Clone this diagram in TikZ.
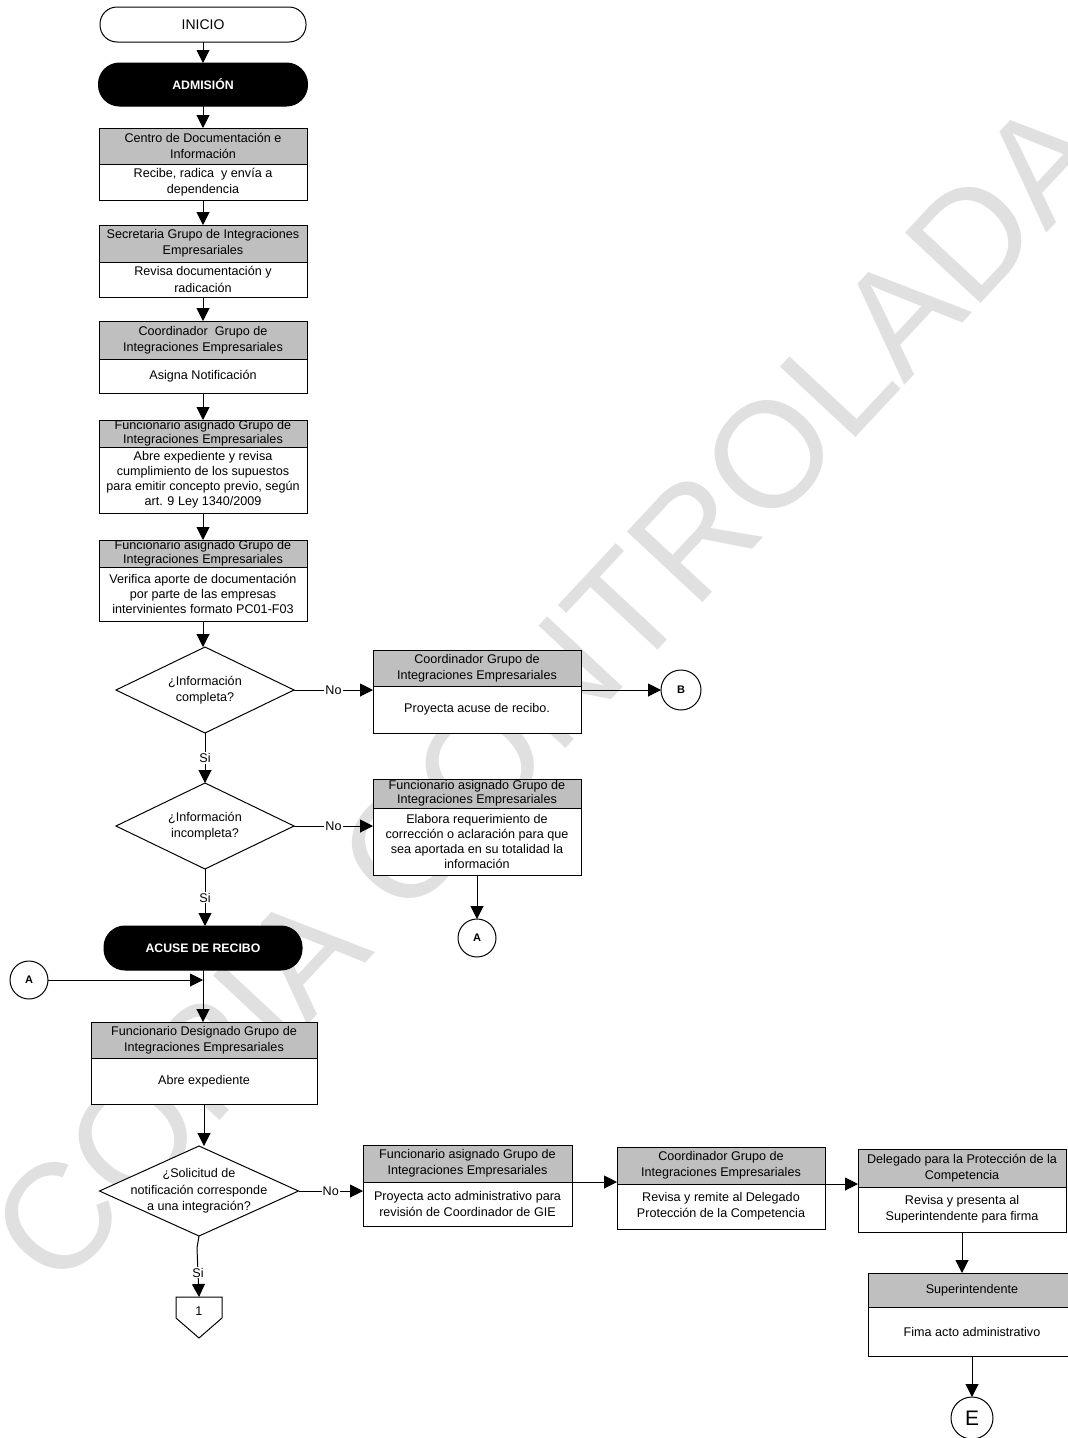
\documentclass[tikz,border=0pt]{standalone}
\usepackage{fontspec}
\setmainfont{Liberation Sans}
\usetikzlibrary{arrows.meta,shapes.geometric,calc}
\begin{document}
\begin{tikzpicture}[x=1pt,y=-1pt,
 base/.style={font=\fontsize{12.6}{16.3}\selectfont, inner sep=0pt, outer sep=0pt, align=center},
 tight/.style={font=\fontsize{12.6}{14}\selectfont},
 mid/.style={font=\fontsize{12.6}{15}\selectfont},
 hdr/.style={base, draw, line width=1pt, fill=black!25},
 bdy/.style={base, draw, line width=1pt, fill=white},
 term/.style={base, draw, line width=1pt, fill=white, rounded corners=17pt, font=\fontsize{14}{16}\selectfont},
 phase/.style={base, draw, line width=1pt, fill=black, text=white, rounded corners=21pt, font=\fontsize{12.3}{14}\selectfont\bfseries},
 dia/.style={draw, diamond, line width=1pt, fill=white, inner sep=0pt, outer sep=0pt},
 conn/.style={draw, circle, line width=1pt, fill=white, inner sep=0pt, outer sep=0pt, minimum size=#1},
 lbl/.style={base, fill=white, inner sep=1.2pt},
 arr/.style={line width=1pt, -{Triangle[length=13pt,width=13pt]}},
 ln/.style={line width=1pt},
 wm/.style={text=black!12, font=\fontsize{150}{150}\selectfont, inner sep=0pt}
]
\useasboundingbox (0,0) rectangle (1068,1438);
\fill[white] (0,0) rectangle (1068,1438);
\clip (0,0) rectangle (1068,1438);

% watermark
\node[wm, rotate=47, anchor=base east] (wmark) at (1115,160) {COPIA CONTROLADA};

% start
\node[term, minimum width=206, minimum height=35] (ini) at (203,24.5) {INICIO};
\node[phase, minimum width=209, minimum height=43] (adm) at (203,84.5) {ADMISIÓN};

% box 1
\node[hdr, minimum width=208, minimum height=36] (h1) at (203,146) {Centro de Documentación e\\Información};
\node[bdy, minimum width=208, minimum height=36, anchor=north] (b1) at (h1.south) {Recibe, radica\ \ y envía a\\dependencia};
% box 2
\node[hdr, minimum width=208, minimum height=37] (h2) at (203,243.5) {Secretaria Grupo de Integraciones\\Empresariales};
\node[bdy, minimum width=208, minimum height=35, anchor=north] (b2) at (h2.south) {Revisa documentación y\\radicación};
% box 3
\node[hdr, minimum width=208, minimum height=38] (h3) at (203,340) {Coordinador\ \ Grupo de\\Integraciones Empresariales};
\node[bdy, minimum width=208, minimum height=34, anchor=north] (b3) at (h3.south) {Asigna Notificación};
% box 4
\node[hdr, tight, minimum width=208, minimum height=27] (h4) at (203,433.5) {Funcionario asignado Grupo de\\Integraciones Empresariales};
\node[bdy, mid, minimum width=208, minimum height=66, anchor=north] (b4) at (h4.south) {Abre expediente y revisa\\cumplimiento de los supuestos\\para emitir concepto previo, según\\art. 9 Ley 1340/2009};
% box 5
\node[hdr, tight, minimum width=208, minimum height=27] (h5) at (203,553.5) {Funcionario asignado Grupo de\\Integraciones Empresariales};
\node[bdy, mid, minimum width=208, minimum height=54, anchor=north] (b5) at (h5.south) {Verifica aporte de documentación\\por parte de las empresas\\intervinientes formato PC01-F03};

% decision 1
\node[dia, minimum width=178, minimum height=86] (d1) at (205,690) {};
\node[base] (d1t) at (d1.center) {¿Información\\completa?};
% box 6
\node[hdr, minimum width=208, minimum height=36] (h6) at (477,668) {Coordinador Grupo de\\Integraciones Empresariales};
\node[bdy, minimum width=208, minimum height=47, anchor=north] (b6) at (h6.south) {Proyecta acuse de recibo.};
\node[conn=40, font=\fontsize{11}{13}\selectfont\bfseries] (cB) at (681,690) {B};

% decision 2
\node[dia, minimum width=178, minimum height=86] (d2) at (205,826) {};
\node[base] (d2t) at (d2.center) {¿Información\\incompleta?};
% box 7
\node[hdr, tight, minimum width=208, minimum height=29] (h7) at (477,793.5) {Funcionario asignado Grupo de\\Integraciones Empresariales};
\node[bdy, mid, minimum width=208, minimum height=67, anchor=north] (b7) at (h7.south) {Elabora requerimiento de\\corrección o aclaración para que\\sea aportada en su totalidad la\\información};
\node[conn=38, font=\fontsize{11}{13}\selectfont\bfseries] (cA2) at (477,938) {A};

% acuse
\node[phase, minimum width=198, minimum height=44] (acu) at (203,948) {ACUSE DE RECIBO};
\node[conn=38, font=\fontsize{11}{13}\selectfont\bfseries] (cA1) at (29,980) {A};

% box 8
\node[hdr, minimum width=226, minimum height=36] (h8) at (204,1040) {Funcionario Designado Grupo de\\Integraciones Empresariales};
\node[bdy, minimum width=226, minimum height=46, anchor=north] (b8) at (h8.south) {Abre expediente};

% decision 3
\node[dia, minimum width=199, minimum height=90] (d3) at (199,1191) {};
\node[base] (d3t) at (d3.center) {¿Solicitud de\\notificación corresponde\\a una integración?};

% box 9
\node[hdr, minimum width=209, minimum height=37] (h9) at (467.5,1163.5) {Funcionario asignado Grupo de\\Integraciones Empresariales};
\node[bdy, minimum width=209, minimum height=44, anchor=north] (b9) at (h9.south) {Proyecta acto administrativo para\\revisión de Coordinador de GIE};
% box 10
\node[hdr, minimum width=208, minimum height=37] (h10) at (721,1165.5) {Coordinador Grupo de\\Integraciones Empresariales};
\node[bdy, minimum width=208, minimum height=45, anchor=north] (b10) at (h10.south) {Revisa y remite al Delegado\\Protección de la Competencia};
% box 11
\node[hdr, minimum width=208, minimum height=38] (h11) at (962,1168) {Delegado para la Protección de la\\Competencia};
\node[bdy, minimum width=208, minimum height=45, anchor=north] (b11) at (h11.south) {Revisa y presenta al\\Superintendente para firma};
% box 12
\node[hdr, minimum width=208, minimum height=34] (h12) at (972,1290) {Superintendente};
\node[bdy, minimum width=208, minimum height=49, anchor=north] (b12) at (h12.south) {Fima acto administrativo};
\node[conn=42, font=\fontsize{21}{24}\selectfont] (cE) at (972,1418) {E};

% off-page connector 1
\draw[ln, fill=white] (176,1297) -- (222,1297) -- (222,1318) -- (199,1338) -- (176,1318) -- cycle;
\coordinate (o1) at (199,1297);
\node[base] (o1t) at (199,1311) {1};

% connectors
\draw[arr] (ini.south) -- (adm.north);
\draw[arr] (adm.south) -- (adm.south |- h1.north);
\draw[arr] (b1.south) -- (h2.north);
\draw[arr] (b2.south) -- (h3.north);
\draw[arr] (b3.south) -- (h4.north);
\draw[arr] (b4.south) -- (h5.north);
\draw[arr] (b5.south) -- (b5.south |- d1.north);
\draw[arr] (d1.east) -- node[lbl] {No} (h6.west |- d1.east);
\draw[arr] (b6.east |- cB.west) -- (cB.west);
\draw[arr] (d1.south) -- node[lbl] {Si} (d2.north);
\draw[arr] (d2.east) -- node[lbl] {No} (h7.west |- d2.east);
\draw[arr] (b7.south) -- (cA2.north);
\draw[arr] (d2.south) -- node[lbl] {Si} (d2.south |- acu.north);
\draw[arr] (cA1.east) -- (cA1.east -| acu.south);
\draw[arr] (acu.south) -- (acu.south |- h8.north);
\draw[arr] (b8.south) -- (b8.south |- d3.north);
\draw[arr] (d3.east) -- node[lbl] {No} (h9.west |- d3.east);
\draw[arr] (d3.south) -- ++(-2,12) -- node[lbl] {Si} (o1);
\draw[arr] (h9.south east) -- (h9.south east -| h10.west);
\draw[arr] (h10.south east) -- (h10.south east -| h11.west);
\draw[arr] (b11.south) -- (b11.south |- h12.north);
\draw[arr] (b12.south) -- (cE.north);
\end{tikzpicture}
\end{document}
